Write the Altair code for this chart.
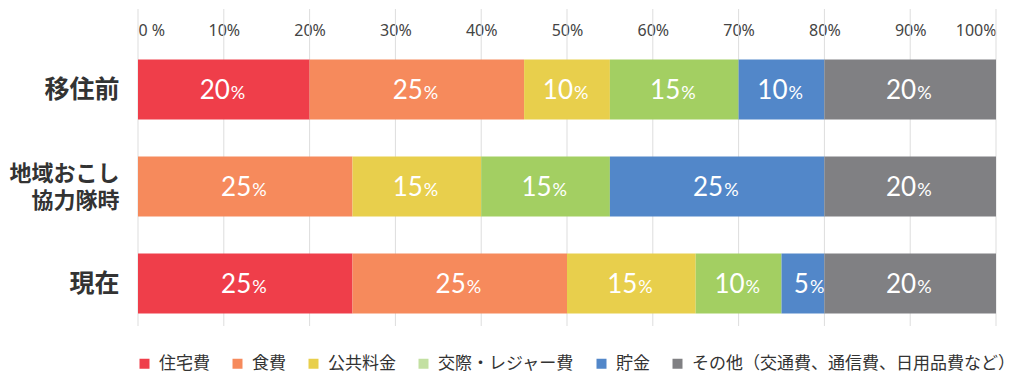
import altair as alt
import pandas as pd

categories = ["移住前", "地域おこし\n協力隊時", "現在"]
items = ["住宅費", "食費", "公共料金", "交際・レジャー費", "貯金", "その他（交通費、通信費、日用品費など）"]
colors = ["#EF3E4A", "#F68A5C", "#E8CF4C", "#A3CF62", "#5287C9", "#808083"]
legend_colors = ["#EF3E4A", "#F68A5C", "#E8CF4C", "#C3E0A2", "#5287C9", "#808083"]
values_before = [20, 25, 10, 15, 10, 20]
values_kyoryoku = [0, 25, 15, 15, 25, 20]
values_now = [25, 25, 15, 10, 5, 20]
tick_values = [0, 10, 20, 30, 40, 50, 60, 70, 80, 90, 100]

rows = []
for cat, vals in zip(categories, [values_before, values_kyoryoku, values_now]):
    start = 0
    for i, (item, v) in enumerate(zip(items, vals)):
        if v > 0:
            rows.append({"category": cat, "item": item, "value": v,
                         "start": start, "end": start + v, "order": i})
        start += v
df = pd.DataFrame(rows)
grid_df = pd.DataFrame({"tick": tick_values})

FONT_JP = "Noto Sans CJK JP"
MULTI = "indexof(datum.value, '\\n') >= 0"

x_enc = alt.X("start:Q", scale=alt.Scale(domain=[0, 100]), title=None,
              axis=alt.Axis(orient="top", values=tick_values,
                            labelExpr="datum.value == 0 ? '0 %' : datum.value + '%'",
                            domain=False, ticks=False, grid=False, labelPadding=3,
                            labelFontSize=16, labelColor="#444", labelFont="Noto Sans",
                            minExtent=32, maxExtent=32))
y_enc = alt.Y("category:N", sort=categories, title=None,
              scale=alt.Scale(paddingInner=0.38, paddingOuter=0.19),
              axis=alt.Axis(labelExpr="split(datum.label, '\\n')",
                            labelFontSize={"condition": {"test": MULTI, "value": 22}, "value": 25},
                            labelFontWeight="bold", labelFont=FONT_JP, labelColor="#333",
                            labelLineHeight=27, labelPadding=19, domain=False, ticks=False,
                            labelOffset={"condition": {"test": MULTI, "value": -13}, "value": 0},
                            minExtent=129, maxExtent=129, labelLimit=0))

rules = alt.Chart(grid_df).mark_rule(color="#DDDDDD", strokeWidth=1).encode(
    x=alt.X("tick:Q", scale=alt.Scale(domain=[0, 100])),
    y=alt.value(-32), y2=alt.value(285)
)

bars = alt.Chart(df).mark_bar().encode(
    x=x_enc,
    x2="end:Q",
    y=y_enc,
    color=alt.Color("item:N", scale=alt.Scale(domain=items, range=colors), legend=None),
)

# zero-width marks that only carry the legend (its swatches use a lighter green)
legend_layer = alt.Chart(df).mark_bar(strokeWidth=0).encode(
    x="start:Q",
    x2="start:Q",
    y=alt.Y("category:N", sort=categories),
    fill=alt.Fill("item:N", scale=alt.Scale(domain=items, range=legend_colors),
                  legend=alt.Legend(orient="none", legendX=-2, legendY=314,
                                    direction="horizontal", title=None,
                                    symbolType="square", symbolSize=100,
                                    symbolStrokeWidth=0, symbolOpacity=1,
                                    labelFontSize=17, labelFont=FONT_JP,
                                    labelColor="#333", labelOffset=6,
                                    columnPadding=19, labelLimit=0)),
)

num_text = alt.Chart(df).transform_calculate(
    mid="(datum.start + datum.end) / 2"
).mark_text(color="white", font="Lato", fontSize=26, align="right",
            baseline="alphabetic", dx=6, dy=9).encode(
    x="mid:Q", y=alt.Y("category:N", sort=categories), text="value:Q"
)

pct_text = alt.Chart(df).transform_calculate(
    mid="(datum.start + datum.end) / 2"
).mark_text(color="white", font="Lato", fontSize=18, align="left",
            baseline="alphabetic", dx=7, dy=9).encode(
    x="mid:Q", y=alt.Y("category:N", sort=categories), text=alt.value("%")
)

chart = alt.layer(legend_layer, rules, bars, num_text, pct_text).properties(
    width=858, height=291,
    padding={"left": 0, "top": 0, "right": 0, "bottom": 6}
).configure_view(stroke=None)

chart.save("out.html", embed_options={"renderer": "svg", "actions": False})
